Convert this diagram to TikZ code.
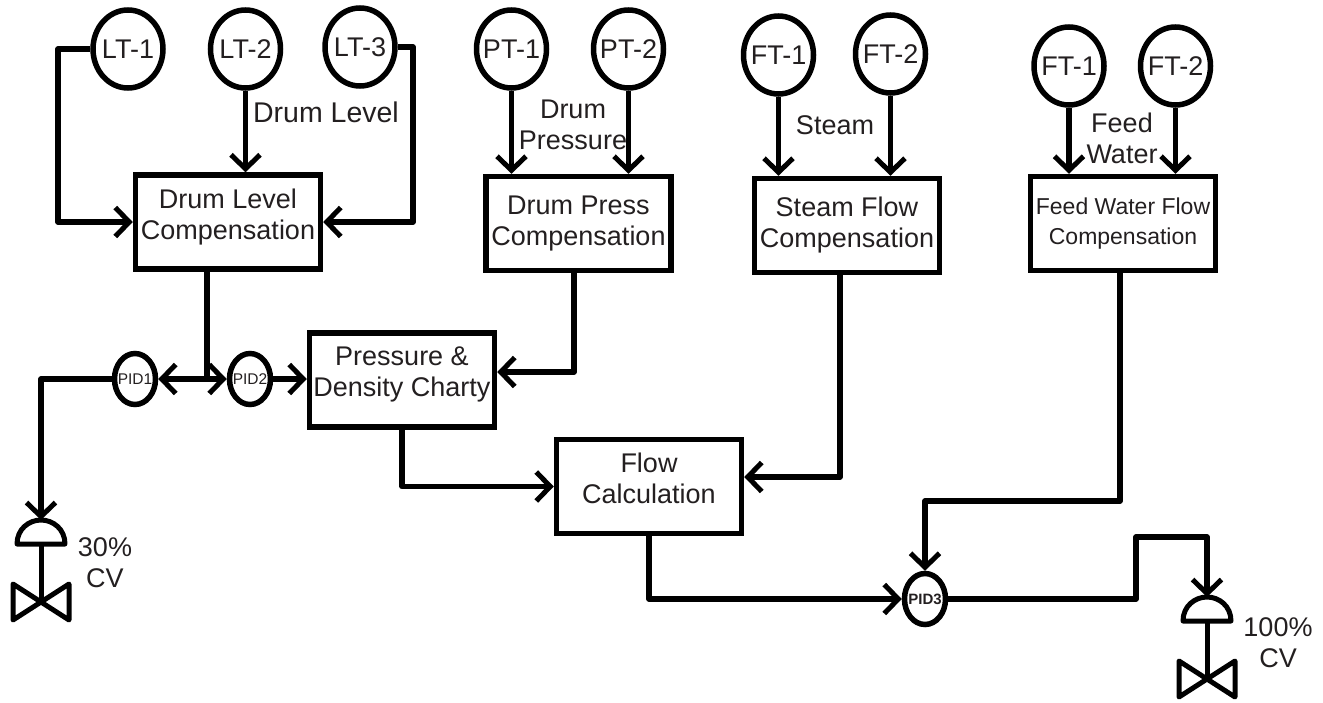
\documentclass[tikz,border=0pt]{standalone}
\usepackage{fontspec}
\setmainfont{Liberation Sans}
\usepackage{tikz}
\usetikzlibrary{arrows.meta,shapes.geometric}
\definecolor{labelink}{RGB}{35,31,32}
\newcommand{\lifttext}{\\[-15pt]\mbox{}}

\begin{document}
\begin{tikzpicture}[x=1pt,y=-1pt,
  every node/.style={font=\fontsize{27}{31}\selectfont,text=labelink,align=center},
  xmtr/.style={draw=black,ellipse,line width=5.5pt,minimum width=70pt,minimum height=78pt,inner sep=-5pt},
  pidball/.style={draw=black,ellipse,line width=5.5pt,minimum width=41pt,minimum height=51pt,inner sep=-5pt,
    font=\fontsize{15.5}{18}\selectfont},
  procbox/.style={draw=black,rectangle,line width=5.5pt,minimum width=185pt,minimum height=94pt,inner sep=0pt},
  signal/.style={line width=5.5pt,line join=round},
  flow/.style={signal,-{Straight Barb[length=14pt,width=29pt,line width=5pt]}},
  valve/.pic={
    \draw[line width=5pt,line join=round] (-24,0) .. controls (-24,-15) and (-12,-24) .. (0,-24)
      .. controls (12,-24) and (24,-15) .. (24,0) -- cycle;
    \draw[line width=5pt] (0,0) -- (0,58);
    \draw[line width=5pt,line join=round] (-28,40) -- (28,76) -- (28,40) -- (-28,76) -- cycle;
    \coordinate (-top) at (0,-24);
  }]
  \useasboundingbox (0,0) rectangle (1323,702);

  \node[xmtr] (ltone) at (128,49) {LT-1};
  \node[xmtr] (lttwo) at (245.5,49) {LT-2};
  \node[xmtr] (ltthree) at (360,47) {LT-3};
  \node[xmtr] (ptone) at (511.5,49) {PT-1};
  \node[xmtr] (pttwo) at (628.5,49) {PT-2};
  \node[xmtr] (ftone) at (778.5,55) {FT-1};
  \node[xmtr] (fttwo) at (890.5,54) {FT-2};
  \node[xmtr] (fwone) at (1069,66) {FT-1};
  \node[xmtr] (fwtwo) at (1175.5,66) {FT-2};

  \node[procbox] (dlc) at (228,222) {Drum Level\\Compensation\lifttext};
  \node[procbox] (dpc) at (578.5,223.5) {Drum Press\\Compensation};
  \node[procbox] (scb) at (847,225.5) {Steam Flow\\Compensation};
  \node[procbox,font=\fontsize{23}{30}\selectfont] (fwb) at (1123,223.5) {Feed Water Flow\\Compensation};
  \node[procbox] (pdc) at (402,380) {Pressure \&\\Density Charty\lifttext};
  \node[procbox] (fcb) at (649,486.5) {Flow\\Calculation\lifttext};

  \node[pidball] (pidone) at (135,379) {PID1};
  \node[pidball] (pidtwo) at (250,379) {PID2};
  \node[pidball,font=\fontsize{15}{18}\selectfont\bfseries] (pidthree) at (925,599) {PID3};

  \node[font=\fontsize{28.5}{31}\selectfont] (dltext) at (326,112) {Drum Level};
  \node (dptext) at (573,125) {Drum\\Pressure};
  \node (sttext) at (835,125) {Steam};
  \node (fwtext) at (1122,138) {Feed\\Water};
  \node (cvonetext) at (105,563) {30\%\\CV};
  \node (cvtwotext) at (1278,643) {100\%\\CV};

  \pic (cvone) at (41,544) {valve};
  \pic (cvtwo) at (1207,621) {valve};

  \coordinate (lefttie) at (58,120);
  \coordinate (righttie) at (413,120);
  \coordinate (busjoin) at (207,379);
  \coordinate (dpcdrop) at (574,372);
  \coordinate (scbdrop) at (840,477);
  \coordinate (fwbdrop) at (1120,501);
  \coordinate (cvriser) at (1136,537);

  \draw[flow] (ltone.west) -| (lefttie) |- (dlc.west);
  \draw[flow] (lttwo.south) -- (lttwo.south |- dlc.north);
  \draw[flow] (ltthree.east) -| (righttie) |- (dlc.east);
  \draw[flow] (ptone.south) -- (ptone.south |- dpc.north);
  \draw[flow] (pttwo.south) -- (pttwo.south |- dpc.north);
  \draw[flow] (ftone.south) -- (ftone.south |- scb.north);
  \draw[flow] (fttwo.south) -- (fttwo.south |- scb.north);
  \draw[flow] (fwone.south) -- (fwone.south |- fwb.north);
  \draw[flow] (fwtwo.south) -- (fwtwo.south |- fwb.north);

  \draw[signal] (busjoin |- dlc.south) -- (busjoin);
  \draw[flow] (busjoin) -- (pidone.east);
  \draw[flow] (busjoin) -- (pidtwo.west);
  \draw[flow] (pidtwo.east) -- (pidtwo.east -| pdc.west);
  \draw[flow] (pidone.west) -| (cvone-top);
  \draw[flow] (dpcdrop |- dpc.south) -- (dpcdrop) -- (dpcdrop -| pdc.east);
  \draw[flow] (pdc.south) |- (fcb.west);
  \draw[flow] (scbdrop |- scb.south) -- (scbdrop) -- (scbdrop -| fcb.east);
  \draw[flow] (fwbdrop |- fwb.south) -- (fwbdrop) -| (pidthree.north);
  \draw[flow] (fcb.south) |- (pidthree.west);
  \draw[flow] (pidthree.east) -| (cvriser) -| (cvtwo-top);
\end{tikzpicture}
\end{document}
